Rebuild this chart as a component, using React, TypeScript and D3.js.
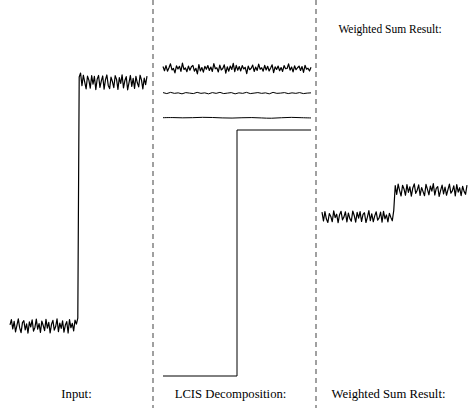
import React from "react";
import * as d3 from "d3";

// panel titles
const panelLabels = ["Input:", "LCIS Decomposition:", "Weighted Sum Result:"];
const topLabel = "Weighted Sum Result:";

// input signal: noisy step (low half, then high half)
const inputSignal = [
  0.5, 2.6, -1.2, 1.9, -2.4, 0.3, 2.9, -0.8, -2.7, 1.4,
  2.2, -1.6, 0.9, -2.9, 1.7, -0.4, 2.5, -2.1, -0.6, 2.8,
  -1.3, 1.0, -2.6, 2.0, 0.2, -1.9, 2.7, -0.9, 1.5, -2.8,
  0.7, 2.3, -1.7, -0.2, 2.9, -2.3, 1.2, -1.0, 2.1, -2.5,
  0.4, 1.8, -2.9, 2.6, -0.7, 1.1, -2.0, 2.4, 0.8, 3.2,
  102.5, 104.1, 98.9, 103.2, 100.4, 97.6, 102.8, 101.2, 97.9, 103.0,
  99.5, 102.7, 97.3, 101.6, 103.1, 98.2, 100.9, 102.9, 97.5, 101.4,
  103.3, 99.0, 97.7, 102.4, 100.6, 98.1, 103.0, 101.5, 97.4, 102.2,
  99.8, 103.4, 98.0, 101.0, 102.6, 97.2, 100.2, 103.1, 98.6, 101.9,
  97.8, 102.7, 100.1, 98.4, 103.2, 101.3, 97.6, 102.0, 99.3, 102.8,
];

// LCIS components
const lcisNoise = [
  125.8, 124.1, 126.2, 123.9, 125.3, 126.9, 124.4, 125.0, 123.2, 126.1,
  124.8, 125.9, 123.8, 127.2, 124.6, 125.2, 123.7, 126.0, 124.3, 125.7,
  126.3, 123.9, 125.1, 122.8, 126.6, 124.0, 125.4, 123.5, 125.9, 124.7,
  126.2, 124.2, 125.6, 123.8, 127.0, 124.9, 125.3, 123.6, 126.4, 124.4,
  125.0, 126.5, 123.1, 125.7, 123.9, 126.0, 124.6, 127.1, 123.7, 126.3,
  124.3, 125.8, 124.0, 126.2, 124.8, 125.5, 122.9, 126.0, 124.5, 125.1,
  126.4, 123.8, 125.6, 124.2, 126.8, 124.7, 125.3, 123.9, 126.3, 124.4,
  125.9, 124.0, 125.2, 126.5, 123.3, 125.7, 124.6, 126.0, 124.1, 125.4,
  123.8, 126.2, 124.9, 125.0, 126.9, 124.3, 125.6, 123.6, 126.1, 124.5,
  125.3, 126.0, 124.2, 125.8, 123.4, 126.3, 124.7, 125.1, 124.0, 125.5,
];
const lcisMid = [
  115.2, 114.8, 115.3, 114.9, 115.1, 114.7, 115.2, 115.0, 114.8, 115.3,
  114.9, 115.1, 114.7, 115.2, 114.9, 115.3, 114.8, 115.0, 115.2, 114.7,
  115.1, 114.9, 115.3, 114.8, 115.0, 115.2, 114.9, 115.1, 114.7, 115.3,
  114.9, 115.0, 115.2, 114.8, 115.1, 114.9, 115.2, 114.8, 115.0, 115.1,
];
const lcisSmooth = [105.0, 105.1, 104.9, 105.0, 105.2, 105.1, 104.9, 104.8, 105.0, 105.1, 104.9, 104.7, 105.0, 105.2, 105.0, 104.9];
const lcisStep = [0, 100, 100];

// weighted sum output
const weightedSum = [
  46.9, 43.2, 47.1, 44.0, 42.6, 46.3, 45.1, 42.9, 47.4, 44.6,
  46.0, 42.5, 45.8, 47.2, 43.7, 44.9, 47.0, 42.8, 46.5, 44.2,
  43.1, 47.3, 45.5, 42.7, 46.8, 44.4, 47.1, 43.0, 45.9, 46.6,
  42.6, 44.8, 47.5, 43.4, 46.2, 42.9, 45.3, 47.0, 43.6, 44.5,
  46.9, 42.7, 47.2, 44.1, 45.7, 42.8, 46.4, 44.7, 43.3, 47.6,
  57.8, 54.2, 58.4, 55.7, 53.5, 57.9, 56.4, 53.8, 58.2, 55.0,
  57.3, 53.4, 56.8, 58.5, 54.6, 55.9, 58.1, 53.7, 57.0, 55.3,
  53.6, 58.3, 56.2, 54.0, 57.6, 55.5, 58.6, 53.9, 56.6, 57.4,
  53.3, 55.8, 58.0, 54.4, 57.2, 53.8, 56.1, 58.4, 54.7, 55.6,
  57.7, 53.5, 58.2, 55.1, 56.9, 53.6, 57.5, 55.4, 54.2, 58.0,
];

const width = 471;
const height = 408;
const dividers = [153, 316];
const font = "'Liberation Serif', 'Times New Roman', Times, serif";

export default function App() {
  // y scales
  const yIn = d3.scaleLinear().domain([0, 100]).range([326, 83]);
  const yLcis = d3.scaleLinear().domain([0, 100]).range([376, 130]);

  // x scales per panel
  const xIn = d3.scaleLinear().domain([0, inputSignal.length - 1]).range([10, 147]);
  const xLcisNoise = d3.scaleLinear().domain([0, lcisNoise.length - 1]).range([163, 311]);
  const xLcisMid = d3.scaleLinear().domain([0, lcisMid.length - 1]).range([163, 311]);
  const xLcisSmooth = d3.scaleLinear().domain([0, lcisSmooth.length - 1]).range([163, 311]);
  const xLcisStep = d3.scaleLinear().domain([0, lcisStep.length - 1]).range([163, 311]);
  const xOut = d3.scaleLinear().domain([0, weightedSum.length - 1]).range([322, 467]);

  const mk = (x: d3.ScaleLinear<number, number>, y: d3.ScaleLinear<number, number>, curve: d3.CurveFactory = d3.curveLinear) =>
    d3.line<number>().x((_, i) => x(i)).y(d => y(d)).curve(curve);

  const paths = [
    { d: mk(xIn, yIn)(inputSignal), w: 1.2 },
    { d: mk(xLcisNoise, yLcis)(lcisNoise), w: 1.2 },
    { d: mk(xLcisMid, yLcis)(lcisMid), w: 1 },
    { d: mk(xLcisSmooth, yLcis, d3.curveBasis)(lcisSmooth), w: 1 },
    { d: mk(xLcisStep, yLcis, d3.curveStepAfter)(lcisStep), w: 1 },
    { d: mk(xOut, yIn)(weightedSum), w: 1.2 },
  ];

  const labelX = [76.5, 230.5, 388.5];

  return (
    <svg width={width} height={height} style={{ position: "absolute", left: 0, top: 0, background: "#fff" }}>
      {dividers.map((x, i) => (
        <line key={i} x1={x} x2={x} y1={0} y2={height} stroke="#6e6e6e" strokeWidth={1.3} strokeDasharray="5,4" />
      ))}
      {paths.map((p, i) => (
        <path key={i} d={p.d || ""} fill="none" stroke="#000" strokeWidth={p.w} strokeLinejoin="round" />
      ))}
      {panelLabels.map((t, i) => (
        <text key={t} x={labelX[i]} y={398} textAnchor="middle" style={{ fontFamily: font, fontSize: "12.7px" }} fill="#000">
          {t}
        </text>
      ))}
      <text x={390} y={33} textAnchor="middle" style={{ fontFamily: font, fontSize: "11.5px" }} fill="#000">
        {topLabel}
      </text>
    </svg>
  );
}
